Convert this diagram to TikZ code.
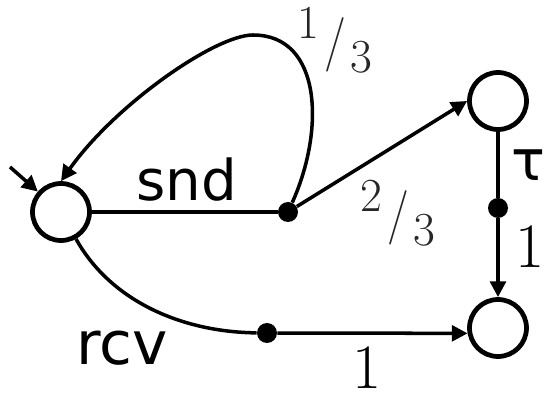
\documentclass[tikz,border=0pt]{standalone}
\usepackage{fontspec}
\usepackage{tikz}
\usetikzlibrary{arrows.meta,positioning}
\newfontfamily\lblfont{DejaVu Sans}
\newcommand{\pfrac}[2]{\raisebox{0.72em}{#1}\kern0.1em\raisebox{0.3em}{\scalebox{1}[1.15]{/}}\kern0.1em#2}
\tikzset{
  statenode/.style={circle,draw=black,line width=2.7pt,minimum size=1.14cm,inner sep=0pt},
  dotnode/.style={circle,fill=black,minimum size=0.40cm,inner sep=0pt},
  actlabel/.style={inner sep=0pt,font=\lblfont\fontsize{32}{32}\selectfont},
  problabel/.style={inner sep=0pt,font=\fontsize{36}{36}\selectfont},
  fraclabel/.style={inner sep=0pt,font=\fontsize{27}{27}\selectfont,text=black!85},
  tline/.style={line width=2pt},
  arr/.style={tline,-{Triangle[length=9pt,width=9pt]}}
}
\begin{document}
\begin{tikzpicture}[x=0.02cm,y=-0.02cm]
  \useasboundingbox (0,0) rectangle (545,398);

  %% States
  \node[statenode] (s0) at (61,212) {};
  \node[statenode] (s1) at (498,101) {};
  \node[statenode] (s2) at (498,328) {};

  %% Branching points
  \node[dotnode] (dsnd) at (288,212) {};
  \node[dotnode] (dtau) at (498,208) {};
  \node[dotnode] (drcv) at (267,333) {};

  \coordinate (init) at (10,167);
  \coordinate (ltop) at (253,35);

  %% Arrows
  \draw[arr] (init) -- (s0);
  \draw[tline] (s0) -- (dsnd);
  \draw[arr] (dsnd) .. controls (325,130) and (322,35) .. (ltop)
                    .. controls (215,35) and (115,105) .. (s0.north);
  \draw[arr] (dsnd) -- (s1.west);
  \draw[tline] (s1) -- (dtau);
  \draw[arr] (dtau) -- (s2);
  \draw[tline] (s0) .. controls (110,300) and (180,332) .. (drcv);
  \draw[arr] (drcv) -- (s2.190);

  %% Labels
  \node[actlabel] (lsnd) at (187,180) {snd};
  \node[actlabel] (ltau) at (528,165) {τ};
  \node[actlabel,font=\lblfont\fontsize{34}{34}\selectfont] (lrcv) at (122,348) {rcv};
  \node[fraclabel] (lone3) at (335,40) {\pfrac{1}{3}};
  \node[fraclabel] (ltwo3) at (398,213) {\pfrac{2}{3}};
  \node[problabel] (lptau) at (530,247) {1};
  \node[problabel] (lprcv) at (367,368) {1};
\end{tikzpicture}
\end{document}
